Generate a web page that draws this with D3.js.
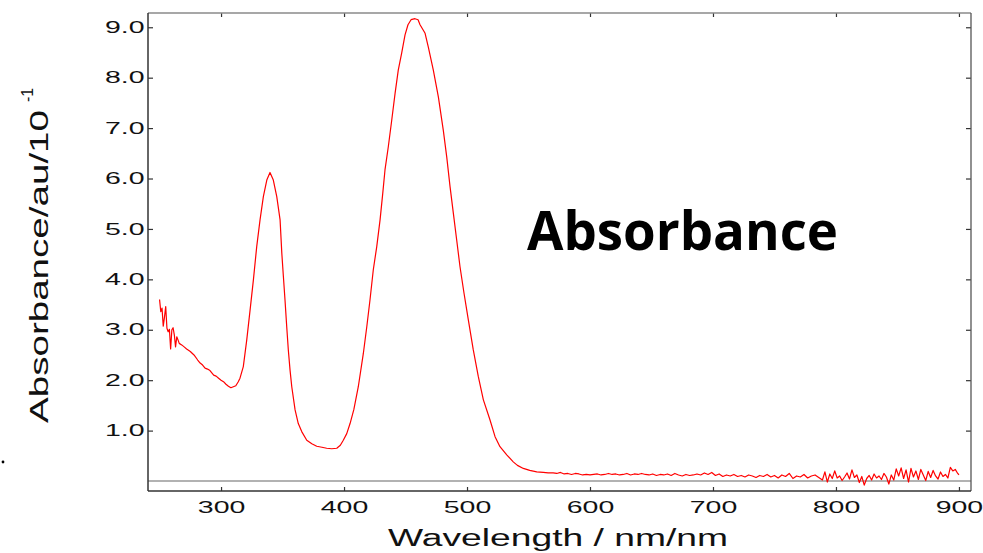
<!DOCTYPE html>
<html><head><meta charset="utf-8">
<script src="https://cdn.jsdelivr.net/npm/d3@7"></script>
<style>body{margin:0;background:#fff} svg{display:block}</style>
</head><body>
<svg id="c" width="983" height="553"></svg>
<script>
const wavelength = [
250,251,252,253,254,255,256,257,258,259,260,261,262,263,264,265,266,268,270,272,275,278,281,283,285,287,289,291,294,296,298,300,302,304,306,308,310,312,314,315.4,
318.1,320.9,323.6,326.3,329,331.7,334.4,337.2,339.8,342.5,345.3,348,349.4,350.7,352,353.4,354.7,356.1,357.5,360.2,362.8,365.6,369.7,373.8,377.8,382,385.9,390,394.1,397,399.4,402.2,404.9,408,
411.6,415.7,418.5,421.1,423.8,426.6,429.3,431.5,433.3,436,438.8,441.5,444.1,446.9,449.6,452,454.5,457.7,460.2,461.8,463.5,465.9,468.5,472.6,476.7,480.7,483.5,486.2,488.9,491.6,494.3,497.6,501.1,505.1,509.2,513.3,518.7,522.8,526.8,532.3,537.6,541,545.8,551,556.7,562,566,
570,573,576,579,582,585,588,591,594,597,600,603,606,609,612,615,618,621,624,627,630,633,636,639,642,645,648,651,654,657,660,663,666,669,672,675,678,681,684,687,690,693,696,699,702,705,708,711,714,717,720,723,726,729,732,735,738,741,744,747,750,753,756,759,762,765,768,771,774,777,780,783,786,789,
791,793,795,797,799,801,803,805,807,809,811,813,815,817,819,821,823,825,827,829,831,833,835,837,839,841,843,845,847,849,851,853,855,857,859,861,863,865,867,869,871,873,875,877,879,881,883,885,887,889,891,893,895,897,899,900
];
const absorbance = [
3.60,3.36,3.43,3.07,3.25,3.46,3.03,2.96,3.01,2.62,3.00,3.04,2.90,2.66,2.86,2.80,2.73,2.70,2.66,2.62,2.57,2.50,2.40,2.34,2.30,2.24,2.22,2.19,2.10,2.08,2.04,2.00,1.97,1.92,1.88,1.85,1.87,1.89,1.97,2.04,
2.27,2.80,3.39,3.99,4.65,5.18,5.64,5.97,6.12,5.97,5.64,5.18,4.52,4.05,3.59,3.06,2.60,2.20,1.87,1.41,1.14,0.98,0.81,0.74,0.69,0.67,0.65,0.64,0.65,0.71,0.81,0.94,1.14,1.42,
1.87,2.53,3.06,3.59,4.19,4.65,5.18,5.71,6.17,6.63,7.16,7.69,8.15,8.49,8.85,9.05,9.15,9.17,9.15,9.05,8.98,8.88,8.61,8.15,7.62,6.96,6.43,5.84,5.31,4.78,4.25,3.72,3.19,2.60,2.07,1.61,1.21,0.88,0.68,0.52,0.38,0.31,0.25,0.21,0.18,0.17,0.16,
0.16,0.15,0.17,0.14,0.15,0.13,0.15,0.14,0.12,0.13,0.12,0.13,0.14,0.12,0.13,0.15,0.13,0.14,0.12,0.13,0.15,0.12,0.14,0.13,0.15,0.13,0.12,0.14,0.11,0.13,0.12,0.14,0.11,0.15,0.12,0.10,0.13,0.11,0.12,0.14,0.12,0.16,0.13,0.17,0.11,0.14,0.09,0.12,0.10,0.13,0.09,0.11,0.08,0.12,0.10,0.07,0.11,0.09,0.13,0.08,0.11,0.06,0.12,0.09,0.15,0.05,0.10,0.08,0.13,0.06,0.10,0.12,0.07,0.02,
0.18,-0.02,0.14,0.05,0.20,0.06,0.10,0.01,0.08,0.16,0.04,0.22,0.07,0.12,-0.03,0.09,-0.08,0.05,0.11,0.02,0.14,0.06,0.10,0.03,0.15,0.08,-0.06,0.12,0.02,0.24,0.10,0.26,0.05,0.22,-0.02,0.25,0.08,0.20,0.03,0.23,0.12,0.01,0.19,0.07,0.21,0.10,0.04,0.18,0.09,0.13,0.06,0.27,0.20,0.23,0.15,0.12
];
const xTicks = [300,400,500,600,700,800,900];
const yTicks = [1,2,3,4,5,6,7,8,9];
const xTitle = "Wavelength / nm/nm";
const yTitle = "Absorbance/au/10";
const ySup = "-1";
const overlayText = "Absorbance";

const svg = d3.select("#c");
const L = 148, R = 971, T = 13, B = 491;
const x = d3.scaleLinear().domain([240.6, 909.8]).range([L, R]);
const y = d3.scaleLinear().domain([-0.198, 9.283]).range([B, T]);
const font = "'Liberation Sans', Arial, sans-serif";
const SX = 1.78;

// baseline at zero
svg.append("line").attr("x1", L).attr("x2", R).attr("y1", y(0)).attr("y2", y(0))
  .attr("stroke", "#666").attr("stroke-width", 1.2);

// data line
const data = wavelength.map((w, i) => [w, absorbance[i]]);
svg.append("path").datum(data)
  .attr("fill", "none").attr("stroke", "#ff0000").attr("stroke-width", 1.2)
  .attr("stroke-linejoin", "round")
  .attr("d", d3.line().x(d => x(d[0])).y(d => y(d[1])));

// axes
const gB = svg.append("g").attr("transform", `translate(0,${B})`)
  .call(d3.axisBottom(x).tickValues(xTicks).tickSize(-4).tickPadding(11).tickFormat(d3.format("d")));
const gL = svg.append("g").attr("transform", `translate(${L},0)`)
  .call(d3.axisLeft(y).tickValues(yTicks).tickSize(-5).tickPadding(2).tickFormat(d3.format(".1f")));
const gT = svg.append("g").attr("transform", `translate(0,${T})`)
  .call(d3.axisTop(x).tickValues(xTicks).tickSize(-4).tickFormat(""));
const gR = svg.append("g").attr("transform", `translate(${R},0)`)
  .call(d3.axisRight(y).tickValues(yTicks).tickSize(-5).tickFormat(""));
[gB, gL, gT, gR].forEach(g => {
  g.select(".domain").remove();
  g.selectAll(".tick line").attr("stroke", "#333").attr("stroke-width", 1.2);
  g.selectAll("text").attr("font-family", font).attr("font-size", 16).attr("fill", "#111");
});
gB.selectAll("text").attr("transform", `scale(${SX},1)`);
gL.selectAll("text").attr("x", -3.5 / SX).attr("transform", `scale(${SX},1)`);

// frame
svg.append("line").attr("x1", L).attr("x2", R).attr("y1", T).attr("y2", T).attr("stroke", "#8a8a8a").attr("stroke-width", 1.3);
svg.append("line").attr("x1", R).attr("x2", R).attr("y1", T).attr("y2", B).attr("stroke", "#555").attr("stroke-width", 1.3);
svg.append("line").attr("x1", L).attr("x2", L).attr("y1", T).attr("y2", B).attr("stroke", "#333").attr("stroke-width", 1.5);
svg.append("line").attr("x1", L).attr("x2", R).attr("y1", B).attr("y2", B).attr("stroke", "#333").attr("stroke-width", 1.5);

// titles
svg.append("text").attr("x", 388).attr("y", 546)
  .attr("font-family", font).attr("font-size", 24.7).attr("fill", "#111")
  .attr("textLength", 340).attr("lengthAdjust", "spacingAndGlyphs").text(xTitle);
svg.append("text").attr("transform", "translate(48,423) rotate(-90)")
  .attr("font-family", font).attr("font-size", 25).attr("fill", "#111")
  .attr("textLength", 313).attr("lengthAdjust", "spacingAndGlyphs").text(yTitle);
svg.append("text").attr("transform", "translate(33,102) rotate(-90)")
  .attr("font-family", font).attr("font-size", 16).attr("fill", "#111").text(ySup);

// overlay label
svg.append("text").attr("x", 527).attr("y", 250)
  .attr("font-family", "'Open Sans', Lato, sans-serif").attr("font-weight", 700)
  .attr("font-size", 54).attr("fill", "#000")
  .attr("textLength", 311).attr("lengthAdjust", "spacingAndGlyphs").text(overlayText);

// stray dot
svg.append("circle").attr("cx", 3).attr("cy", 462).attr("r", 1.4).attr("fill", "#000");
</script>
</body></html>
